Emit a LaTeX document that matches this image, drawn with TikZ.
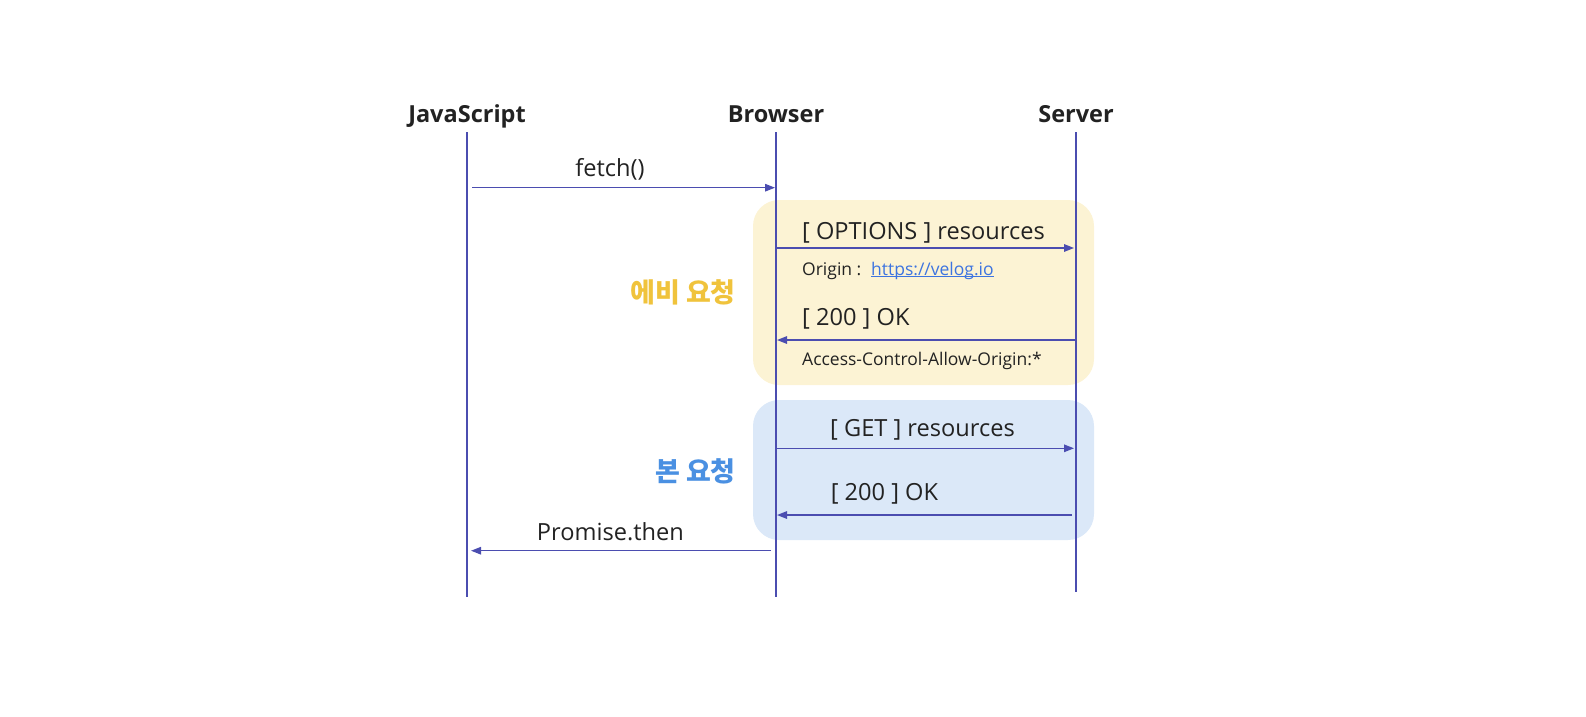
\documentclass[tikz,border=0pt]{standalone}
\usepackage{fontspec}
\setmainfont{Open Sans}
\newfontfamily\kr{Noto Sans CJK KR}
\usetikzlibrary{arrows.meta}
\definecolor{lineblue}{HTML}{4B4DB0}
\definecolor{yelfill}{HTML}{FCF3D4}
\definecolor{bluefill}{HTML}{DBE8F8}
\definecolor{yeltext}{HTML}{F0C33C}
\definecolor{bluetext}{HTML}{4A90E2}
\definecolor{linktext}{HTML}{3D74E0}
\definecolor{ink}{HTML}{222222}
\tikzset{
  head/.style={font=\fontsize{23.5}{28}\selectfont\bfseries, text=ink, inner sep=0pt, anchor=base},
  msg/.style={font=\fontsize{23.6}{28}\selectfont, text=ink, inner sep=0pt},
  small/.style={font=\fontsize{17.5}{21}\selectfont, text=ink, inner sep=0pt, anchor=base west},
  life/.style={draw=lineblue, line width=1.4pt},
  arr/.style={draw=lineblue, line width=1.4pt, -{Triangle[length=10pt,width=7.5pt]}},
  phase/.style={font=\kr\fontsize{27}{32}\selectfont\bfseries, inner sep=0pt},
}
\begin{document}
\begin{tikzpicture}[x=1pt,y=-1pt]
\useasboundingbox (0,0) rectangle (1586,716);
% background boxes
\fill[yelfill, rounded corners=26pt] (753,200) rectangle (1094,385);
\fill[bluefill, rounded corners=26pt] (753,400) rectangle (1094,540);
% headers
\node[head] (js) at (467,122) {JavaScript};
\node[head] (br) at (776,122) {Browser};
\node[head] (sv) at (1076,122) {Server};
% lifelines
\coordinate (jsT) at (467,132); \coordinate (jsB) at (467,597);
\coordinate (brT) at (776,132); \coordinate (brB) at (776,597);
\coordinate (svT) at (1076,132); \coordinate (svB) at (1076,592);
\draw[life] (jsT) -- (jsB);
\draw[life] (brT) -- (brB);
\draw[life] (svT) -- (svB);
% messages
\coordinate (m1a) at (472,187.7); \coordinate (m1b) at (775,187.7);
\coordinate (m2a) at (776,248); \coordinate (m2b) at (1074,248);
\coordinate (m3a) at (1076,340); \coordinate (m3b) at (777,340);
\coordinate (m4a) at (776,448.3); \coordinate (m4b) at (1074,448.3);
\coordinate (m5a) at (1072,515); \coordinate (m5b) at (777,515);
\coordinate (m6a) at (771,550.7); \coordinate (m6b) at (471,550.7);
\draw[arr] (m1a) -- (m1b);
\draw[arr] (m2a) -- (m2b);
\draw[arr] (m3a) -- (m3b);
\draw[arr] (m4a) -- (m4b);
\draw[arr] (m5a) -- (m5b);
\draw[arr] (m6a) -- (m6b);
% labels
\node[msg, anchor=base] (l1) at (610,176) {fetch()};
\node[msg, anchor=base west] (l2) at (802,239) {[ OPTIONS ] resources};
\node[small] (l2s) at (802,275) {Origin :};
\node[small, text=linktext] (lk) at (871,275) {https://velog.io};
\draw[linktext, line width=1pt] ([yshift=-1.8pt]lk.base west) -- ([yshift=-1.8pt]lk.base east);
\node[msg, anchor=base west] (l3) at (802,325) {[ 200 ] OK};
\node[small] (l3s) at (802,365) {Access-Control-Allow-Origin:*};
\node[msg, anchor=base] (l4) at (922.5,436.5) {[ GET ] resources};
\node[msg, anchor=base west] (l5) at (830.6,500) {[ 200 ] OK};
\node[msg, anchor=base] (l6) at (610.4,540) {Promise.then};
% phase labels
\node[phase, text=yeltext, anchor=east] (p1) at (736,292) {에비 요청};
\node[phase, text=bluetext, anchor=east] (p2) at (736,471.7) {본 요청};
\end{tikzpicture}
\end{document}
